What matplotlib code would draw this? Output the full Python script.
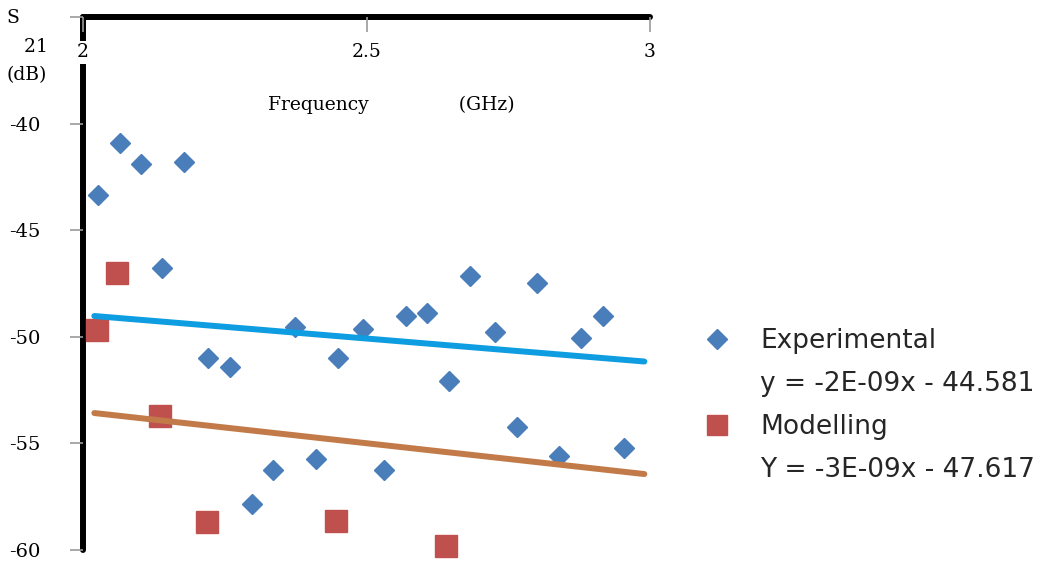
import matplotlib
matplotlib.use("Agg")
import matplotlib.pyplot as plt
from matplotlib.lines import Line2D
import numpy as np

# Experimental S21 readings across the band (frequency in GHz, S21 in dB)
exp_freq_ghz = [2.026, 2.065, 2.102, 2.139, 2.178, 2.220, 2.259, 2.298, 2.335,
                2.374, 2.411, 2.450, 2.494, 2.531, 2.570, 2.607, 2.646, 2.683,
                2.727, 2.765, 2.801, 2.840, 2.878, 2.917, 2.954]
exp_s21_db = [-43.35, -40.91, -41.89, -46.77, -41.80, -50.99, -51.42, -57.84,
              -56.25, -49.54, -55.73, -50.99, -49.63, -56.25, -49.02, -48.88,
              -52.07, -47.15, -49.77, -54.23, -47.48, -55.59, -50.06, -49.02,
              -55.22]

# Modelled S21 values
mod_freq_ghz = [2.025, 2.060, 2.136, 2.219, 2.446, 2.640]
mod_s21_db = [-49.68, -47.01, -53.71, -58.69, -58.64, -59.81]

# Linear trendlines, slope per Hz and intercept in dB
exp_trend = (-2.2e-9, -44.581)
mod_trend = (-2.95e-9, -47.617)
trend_span_ghz = [2.02, 2.99]

x_ticks = [2, 2.5, 3]
x_tick_labels = ["2", "2.5", "3"]
y_ticks = [-60, -55, -50, -45, -40, -35]
y_tick_labels = ["-60", "-55", "-50", "-45", "-40", ""]

BLUE = "#4a7ebb"
RED = "#c0504d"
BLUE_LINE = "#0e9de0"
ORANGE_LINE = "#c27a48"
TICK_GREY = "#9a9a9a"
SERIF = "DejaVu Serif"


def trend_label(prefix, coeffs):
    slope, intercept = coeffs
    return f"{prefix} = {slope:.0E}x - {abs(intercept):.3f}"


fig = plt.figure(figsize=(10.64, 5.63), dpi=100)
ax = fig.add_axes([83 / 1064, 1 - 550 / 563, (650 - 83) / 1064, 533 / 563])

ax.plot(exp_freq_ghz, exp_s21_db, ls="none", marker="D", ms=10,
        color=BLUE, mec=BLUE, zorder=3, clip_on=False)
ax.plot(mod_freq_ghz, mod_s21_db, ls="none", marker="s", ms=16.5,
        color=RED, mec=RED, zorder=3, clip_on=False)

span = np.array(trend_span_ghz)
for coeffs, col in ((exp_trend, BLUE_LINE), (mod_trend, ORANGE_LINE)):
    slope, intercept = coeffs
    ax.plot(span, slope * span * 1e9 + intercept, color=col, lw=4.3,
            solid_capstyle="round", zorder=4)

ax.set_xlim(2, 3)
ax.set_ylim(-60, -35)

# Frame: only the top and left spines, drawn thick and black
for side in ("bottom", "right"):
    ax.spines[side].set_visible(False)
for side in ("top", "left"):
    ax.spines[side].set_linewidth(4.3)
    ax.spines[side].set_color("black")
    ax.spines[side].set_capstyle("round")
    ax.spines[side].set_zorder(1.2)

ax.xaxis.tick_top()
ax.set_xticks(x_ticks)
xlabels = ax.set_xticklabels(x_tick_labels, fontfamily=SERIF, fontsize=13.5)
for lbl in xlabels:
    lbl.set_bbox(dict(facecolor="white", edgecolor="none", pad=2))
ax.tick_params(axis="x", direction="in", length=11, width=1.2,
               color=TICK_GREY, pad=-32)

ax.set_yticks(y_ticks)
ax.set_yticklabels(y_tick_labels, fontfamily=SERIF, fontsize=14)
ax.tick_params(axis="y", direction="out", length=9.5, width=1.2,
               color=TICK_GREY, pad=21)

ax.xaxis.set_label_position("top")
ax.set_xlabel("Frequency               (GHz)", fontfamily=SERIF,
              fontsize=13.5, va="center", ha="center")
ax.xaxis.set_label_coords(0.544, 0.835)

ax.set_ylabel("S\n   21\n(dB)", fontfamily=SERIF, fontsize=13.5,
              rotation=0, va="center", ha="center", multialignment="left",
              linespacing=1.75)
ax.yaxis.set_label_coords(-0.098, 0.944)

handles = [
    Line2D([], [], ls="none", marker="D", ms=10, color=BLUE, mec=BLUE),
    Line2D([], [], ls="none"),
    Line2D([], [], ls="none", marker="s", ms=14, color=RED, mec=RED),
    Line2D([], [], ls="none"),
]
labels = ["Experimental", trend_label("y", exp_trend),
          "Modelling", trend_label("Y", mod_trend)]
leg = fig.legend(handles, labels, loc="center left",
                 bbox_to_anchor=(0.659, 1 - 405.5 / 563), frameon=False,
                 prop={"family": "DejaVu Sans", "size": 19},
                 handlelength=1.2, handletextpad=1.03, labelspacing=0.64,
                 borderpad=0, borderaxespad=0)
for t in leg.get_texts():
    t.set_color("#262626")

fig.savefig("out.png", dpi=100, facecolor="white")
